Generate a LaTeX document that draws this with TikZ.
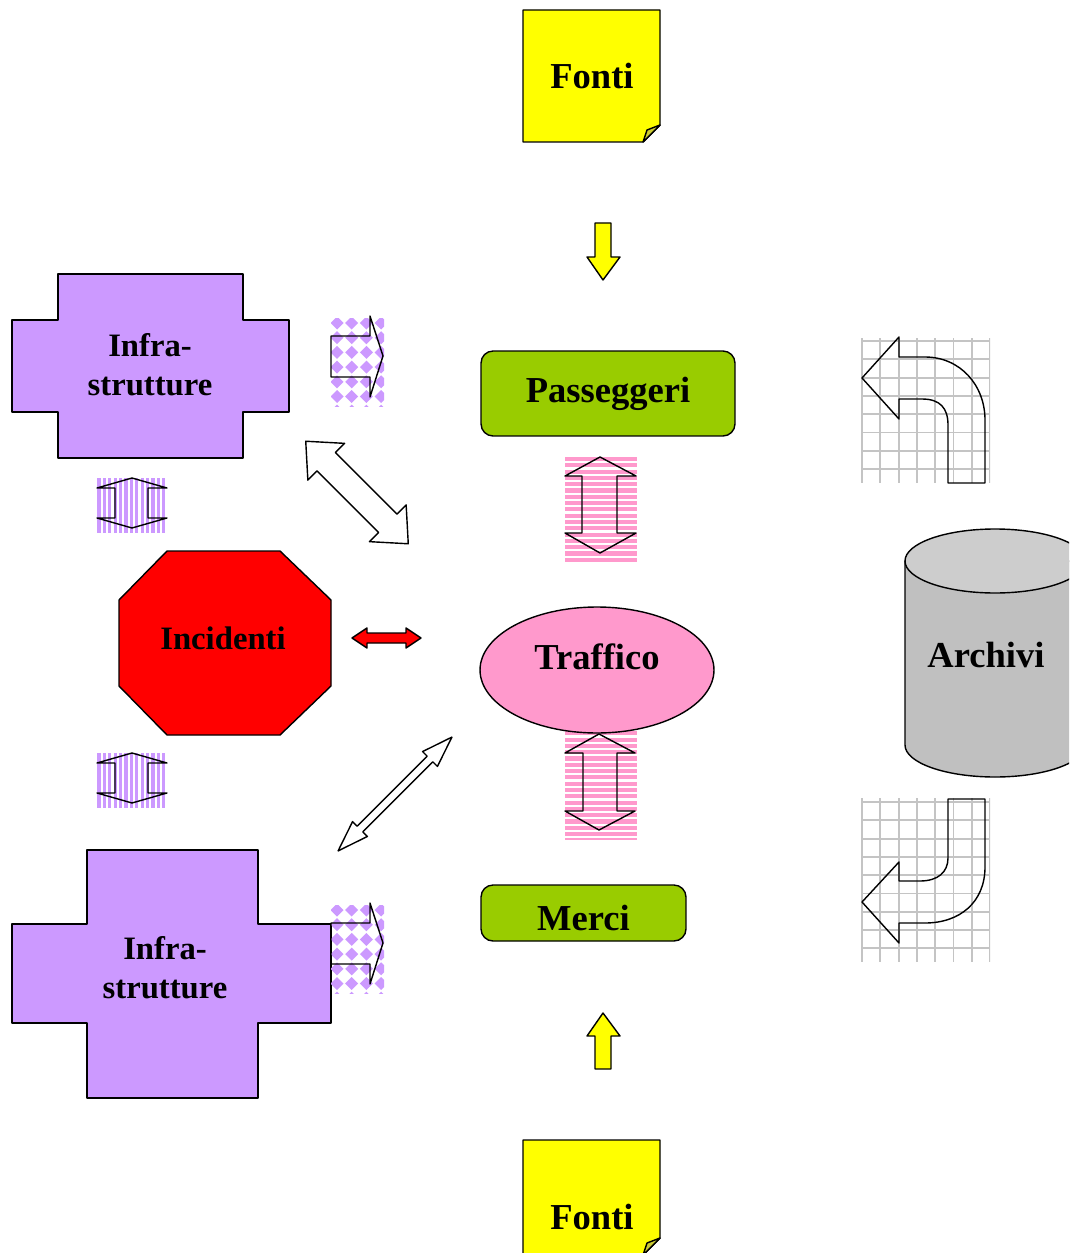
\documentclass[tikz,border=0pt]{standalone}
\usepackage{fontspec}
\setmainfont{Liberation Serif}
\usepackage{xcolor}
\usetikzlibrary{positioning,shapes.geometric}
\definecolor{lilla}{HTML}{CC99FF}
\definecolor{verdino}{HTML}{99CC00}
\definecolor{rosa}{HTML}{FF99CC}
\definecolor{giallo}{HTML}{FFFF00}
\definecolor{piega}{HTML}{CCCC33}
\definecolor{grigio}{HTML}{C0C0C0}
\definecolor{grigiotop}{HTML}{CDCDCD}
\definecolor{rete}{HTML}{C4C4C4}
\begin{document}
\begin{tikzpicture}[x=0.02cm, y=-0.02cm, line join=round,
  sh/.style={draw=black, line width=0.8pt},
  outl/.style={draw=black, line width=0.8pt},
  lbig/.style={font=\fontsize{20.8}{24}\selectfont\bfseries, inner sep=0pt},
  lmid/.style={font=\fontsize{18.6}{22.1}\selectfont\bfseries, inner sep=0pt, align=center},
  tbox/.style={sh, fill=verdino, rounded corners=0.24cm, lbig},
  pinkln/.style={draw=rosa, line width=2.3pt},
  lillaln/.style={draw=lilla, line width=1.8pt},
  gridln/.style={draw=rete, line width=1.1pt}]
\useasboundingbox (0,0) rectangle (1069,1253);
\fill[white] (0,0) rectangle (1069,1253);
\clip (0,0) rectangle (1069,1253);
% fonti (top)
\draw[sh, fill=giallo] (523,10) -- (660,10) -- (660,125) -- (643,142) -- (523,142) -- cycle;
\draw[sh, fill=piega] (643,142) -- (647,130) -- (660,125) -- cycle;
\node[lbig] (fonti1) at (592,76) {Fonti};
\draw[sh, fill=giallo] (595,223) -- (611,223) -- (611,257) -- (620,257) -- (603,280) -- (587,257) -- (595,257) -- cycle;
% passeggeri
\node[tbox, minimum width=5.08cm, minimum height=1.7cm] (pass) at (608,393.5) {Passeggeri};
\begin{scope}
\clip (565,457) rectangle (637,563);
\foreach \yy in {459,465.3,...,565} \draw[pinkln] (565,\yy) -- (637,\yy);
\end{scope}
\draw[outl] (600,457) -- (636,476) -- (617,476) -- (617,533) -- (636,533) -- (600,553) -- (565,533) -- (582,533) -- (582,476) -- (565,476) -- cycle;
% traffico
\begin{scope}
\clip (565,725) rectangle (637,839);
\foreach \yy in {727,733.3,...,841} \draw[pinkln] (565,\yy) -- (637,\yy);
\end{scope}
\node[sh, ellipse, fill=rosa, minimum width=4.68cm, minimum height=2.52cm, lbig, text height=15pt, text depth=16pt] (traf) at (597,670) {Traffico};
\draw[outl] (599,734) -- (635,753) -- (617,753) -- (617,811) -- (635,811) -- (599,830) -- (565,811) -- (583,811) -- (583,753) -- (565,753) -- cycle;
% merci
\node[tbox, minimum width=4.1cm, minimum height=1.12cm, text height=20pt, text depth=0.6pt] (merci) at (583.5,913) {Merci};
\draw[sh, fill=giallo] (595,1069) -- (611,1069) -- (611,1036) -- (620,1036) -- (603,1013) -- (587,1036) -- (595,1036) -- cycle;
% fonti (bottom)
\draw[sh, fill=giallo] (523,1140) -- (660,1140) -- (660,1238) -- (643,1255) -- (523,1255) -- cycle;
\draw[sh, fill=piega] (643,1255) -- (647,1243) -- (660,1238) -- cycle;
\node[lbig] (fonti2) at (592,1217) {Fonti};
% infrastrutture
\draw[sh, fill=lilla] (58,274) -- (243,274) -- (243,320) -- (289,320) -- (289,412) -- (243,412) -- (243,458) -- (58,458) -- (58,412) -- (12,412) -- (12,320) -- (58,320) -- cycle;
\node[lmid] (infra1) at (150,365) {Infra-\\strutture};
\draw[sh, fill=lilla] (87,850) -- (258,850) -- (258,924) -- (331,924) -- (331,1023) -- (258,1023) -- (258,1098) -- (87,1098) -- (87,1023) -- (12,1023) -- (12,924) -- (87,924) -- cycle;
\node[lmid] (infra2) at (165,968) {Infra-\\strutture};
\foreach \dy in {0,587} {
  \begin{scope}[shift={(0,\dy)}]
    \begin{scope}
      \clip (331,318) rectangle (384,406);
      \foreach \i in {0,...,3} \foreach \j in {0,...,6}
        \fill[lilla] ({337+14.7*\i},{323+14.7*\j}) +(-6.5,0) -- +(0,-6.5) -- +(6.5,0) -- +(0,6.5) -- cycle;
    \end{scope}
    \draw[outl] (331,336) -- (370,336) -- (370,316) -- (383,356) -- (370,397) -- (370,377) -- (331,377) -- cycle;
  \end{scope}
}
\foreach \dy in {0,275} {
  \begin{scope}[shift={(0,\dy)}]
    \begin{scope}
      \clip (97,478) rectangle (167,533);
      \foreach \xx in {99,104.4,...,169} \draw[lillaln] (\xx,478) -- (\xx,533);
    \end{scope}
    \draw[outl] (132,478) -- (167,488) -- (148,488) -- (148,518) -- (167,518) -- (132,528) -- (97,518) -- (115,518) -- (115,488) -- (97,488) -- cycle;
  \end{scope}
}
% incidenti
\draw[sh, fill=red] (167,551) -- (280,551) -- (331,600) -- (331,686) -- (280,735) -- (167,735) -- (119,686) -- (119,600) -- cycle;
\node[lmid] (inc) at (223,638) {Incidenti};
\draw[sh, fill=red] (352,638) -- (367,628) -- (367,633) -- (406,633) -- (406,628) -- (421,638) -- (406,648) -- (406,643) -- (367,643) -- (367,648) -- cycle;
\begin{scope}[shift={(357,492.5)}, rotate=-45]
\draw[outl, fill=white] (-72.5,0) -- (-43.5,26) -- (-43.5,13) -- (43.5,13) -- (43.5,26) -- (72.5,0) -- (43.5,-26) -- (43.5,-13) -- (-43.5,-13) -- (-43.5,-26) -- cycle;
\end{scope}
\begin{scope}[shift={(395,794)}, rotate=45]
\draw[outl, fill=white] (-80.5,0) -- (-49.5,10.5) -- (-49.5,4) -- (49.5,4) -- (49.5,10.5) -- (80.5,0) -- (49.5,-10.5) -- (49.5,-4) -- (-49.5,-4) -- (-49.5,-10.5) -- cycle;
\end{scope}
% archivi
\begin{scope}
\clip (861,338) rectangle (990,483);
\foreach \xx in {862,880.3,...,992} \draw[gridln] (\xx,338) -- (\xx,483);
\foreach \yy in {341,359.3,...,485} \draw[gridln] (861,\yy) -- (990,\yy);
\end{scope}
\draw[outl] (899,337) -- (899,357) -- (925,357) .. controls (960,357) and (985,385) .. (985,420) -- (985,483) -- (948,483) -- (948,425) .. controls (948,408) and (940,399) .. (922,399) -- (899,399) -- (899,419) -- (862,378) -- cycle;
\begin{scope}
\clip (861,798) rectangle (990,962);
\foreach \xx in {862,880.3,...,992} \draw[gridln] (\xx,798) -- (\xx,962);
\foreach \yy in {802,820.3,...,964} \draw[gridln] (861,\yy) -- (990,\yy);
\end{scope}
\draw[outl] (948,799) -- (985,799) -- (985,867) .. controls (985,902) and (960,923) .. (925,923) -- (899,923) -- (899,943) -- (862,902) -- (899,862) -- (899,881) -- (920,881) .. controls (938,881) and (948,872) .. (948,858) -- cycle;
\draw[sh, fill=grigio] (905,561) -- (905,745) .. controls (905,762.7) and (945.3,777) .. (995,777) .. controls (1044.7,777) and (1085,762.7) .. (1085,745) -- (1085,561) -- cycle;
\draw[sh, fill=grigiotop] (905,561) .. controls (905,543.3) and (945.3,529) .. (995,529) .. controls (1044.7,529) and (1085,543.3) .. (1085,561) .. controls (1085,578.7) and (1044.7,593) .. (995,593) .. controls (945.3,593) and (905,578.7) .. (905,561) -- cycle;
\node[lbig] (arch) at (986,655) {Archivi};
\end{tikzpicture}
\end{document}
